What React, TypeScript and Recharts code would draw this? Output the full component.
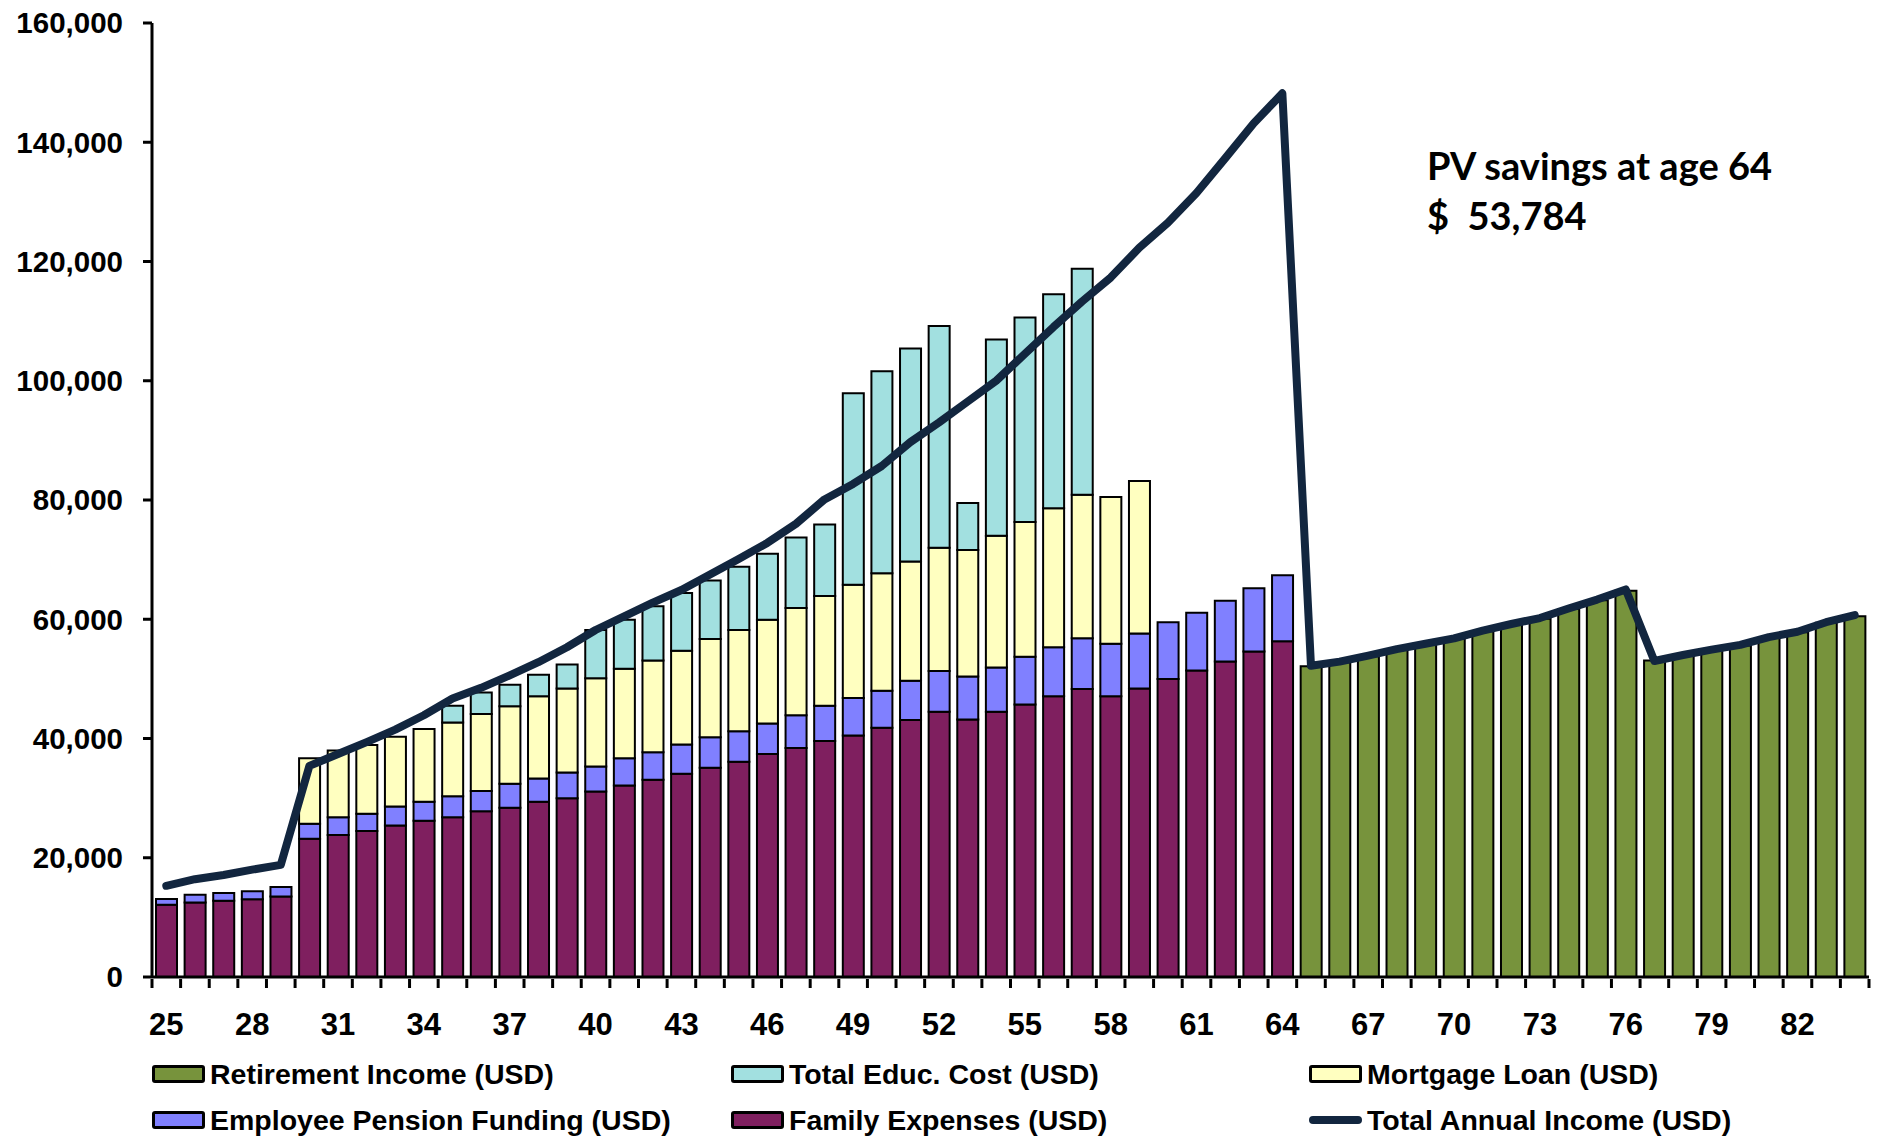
import { Bar, ComposedChart, Legend, Line, XAxis, YAxis } from "recharts";

// Household cash-flow projection by age, values in USD.
const ages = [
  25, 26, 27, 28, 29, 30, 31, 32, 33, 34, 35, 36, 37, 38, 39, 40, 41, 42, 43, 44,
  45, 46, 47, 48, 49, 50, 51, 52, 53, 54, 55, 56, 57, 58, 59, 60, 61, 62, 63, 64,
  65, 66, 67, 68, 69, 70, 71, 72, 73, 74, 75, 76, 77, 78, 79, 80, 81, 82, 83, 84,
];

const familyExpenses = [
  12100, 12500, 12800, 13050, 13500, 23200, 23800, 24500, 25400, 26200,
  26800, 27800, 28400, 29400, 30000, 31100, 32100, 33100, 34100, 35100,
  36100, 37400, 38400, 39600, 40500, 41800, 43100, 44500, 43200, 44500,
  45700, 47100, 48300, 47100, 48400, 50000, 51400, 52900, 54600, 56300,
  0, 0, 0, 0, 0, 0, 0, 0, 0, 0, 0, 0, 0, 0, 0, 0, 0, 0, 0, 0,
];

const pensionFunding = [
  1000, 1300, 1300, 1350, 1600, 2500, 3000, 2900, 3200, 3200,
  3500, 3400, 4000, 3900, 4300, 4200, 4600, 4600, 4900, 5100,
  5100, 5100, 5500, 5900, 6300, 6200, 6600, 6800, 7200, 7400,
  8000, 8200, 8500, 8800, 9200, 9500, 9700, 10200, 10600, 11100,
  0, 0, 0, 0, 0, 0, 0, 0, 0, 0, 0, 0, 0, 0, 0, 0, 0, 0, 0, 0,
];

const mortgageLoan = [
  0, 0, 0, 0, 0, 11000, 11200, 11500, 11700, 12200,
  12400, 12900, 13000, 13800, 14100, 14800, 15000, 15400, 15700, 16500,
  17000, 17400, 18000, 18400, 19000, 19700, 20000, 20700, 21200, 22100,
  22600, 23300, 24100, 24600, 25600, 0, 0, 0, 0, 0,
  0, 0, 0, 0, 0, 0, 0, 0, 0, 0, 0, 0, 0, 0, 0, 0, 0, 0, 0, 0,
];

const educationCost = [
  0, 0, 0, 0, 0, 0, 0, 0, 0, 0,
  2800, 3600, 3600, 3600, 4000, 8100, 8200, 9100, 9700, 9800,
  10600, 11100, 11800, 12000, 32100, 33900, 35700, 37200, 7900, 32900,
  34300, 35900, 37900, 0, 0, 0, 0, 0, 0, 0,
  0, 0, 0, 0, 0, 0, 0, 0, 0, 0, 0, 0, 0, 0, 0, 0, 0, 0, 0, 0,
];

const retirementIncome = [
  0, 0, 0, 0, 0, 0, 0, 0, 0, 0, 0, 0, 0, 0, 0, 0, 0, 0, 0, 0,
  0, 0, 0, 0, 0, 0, 0, 0, 0, 0, 0, 0, 0, 0, 0, 0, 0, 0, 0, 0,
  52100, 52800, 53800, 54900, 55800, 56700, 58000, 59100, 60100, 61700,
  63200, 64800, 53100, 53900, 54800, 55600, 56900, 57800, 59400, 60500,
];

const totalAnnualIncome = [
  15300, 16400, 17100, 18000, 18800, 35400, 37400, 39400, 41500, 43900,
  46700, 48500, 50600, 52800, 55300, 58200, 60500, 62800, 64900, 67500,
  70100, 72800, 76000, 80100, 82700, 85700, 89700, 93000, 96500, 100000,
  104500, 109000, 113300, 117300, 122300, 126500, 131500, 137300, 143200, 148200,
  52200, 52900, 53900, 55000, 55900, 56800, 58100, 59200, 60200, 61800,
  63300, 65000, 53000, 54000, 54900, 55700, 57000, 57900, 59500, 60700,
];

const yTicks = [0, 20000, 40000, 60000, 80000, 100000, 120000, 140000, 160000];

const data = ages.map((age, i) => ({
  age,
  family: familyExpenses[i],
  pension: pensionFunding[i],
  mortgage: mortgageLoan[i],
  education: educationCost[i],
  retirement: retirementIncome[i],
  income: totalAnnualIncome[i],
}));

const COLORS = {
  retirement: "#77933C",
  education: "#A2E0E0",
  mortgage: "#FFFFC0",
  pension: "#8080FF",
  family: "#7F1F5F",
  income: "#12263F",
};

const W = 1881;
const H = 1139;
const MARGIN = { top: 23, right: 12, bottom: 102, left: 0 };
const Y_AXIS_W = 152;
const BAND = (W - MARGIN.left - MARGIN.right - Y_AXIS_W) / ages.length;
const FONT = "'Liberation Sans', Arial, sans-serif";

// Excel-style category axis: tick marks sit between categories, labels every third age.
function AgeTick(props: any) {
  const { x, y, payload, index } = props;
  const left = x - BAND / 2;
  const last = index === ages.length - 1;
  return (
    <g>
      <line x1={left} x2={left} y1={y} y2={y + 9} stroke="#000" strokeWidth={3} />
      {last && (
        <line x1={x + BAND / 2} x2={x + BAND / 2} y1={y} y2={y + 9} stroke="#000" strokeWidth={3} />
      )}
      {index % 3 === 0 && (
        <text
          x={x}
          y={y + 56}
          textAnchor="middle"
          fontFamily={FONT}
          fontWeight="bold"
          fontSize={31}
          fill="#000"
        >
          {payload.value}
        </text>
      )}
    </g>
  );
}

const legendRows = [
  [
    { key: "retirement", label: "Retirement Income (USD)" },
    { key: "education", label: "Total Educ. Cost (USD)" },
    { key: "mortgage", label: "Mortgage Loan (USD)" },
  ],
  [
    { key: "pension", label: "Employee Pension Funding (USD)" },
    { key: "family", label: "Family Expenses (USD)" },
    { key: "income", label: "Total Annual Income (USD)" },
  ],
];
const LEGEND_COLS = [152, 731, 1309];

function LegendBlock() {
  return (
    <div style={{ position: "relative", width: W, height: 90 }}>
      {legendRows.map((row, r) =>
        row.map((item, c) => (
          <div
            key={item.key}
            style={{
              position: "absolute",
              left: LEGEND_COLS[c],
              top: r * 46,
              height: 40,
              display: "flex",
              alignItems: "center",
              whiteSpace: "nowrap",
            }}
          >
            {item.key === "income" ? (
              <div
                style={{
                  width: 53,
                  height: 8,
                  borderRadius: 4,
                  background: COLORS.income,
                }}
              />
            ) : (
              <div
                style={{
                  width: 47,
                  height: 12,
                  border: "3px solid #000",
                  borderRadius: 3,
                  background: (COLORS as any)[item.key],
                }}
              />
            )}
            <span
              style={{
                marginLeft: 5,
                fontFamily: FONT,
                fontWeight: "bold",
                fontSize: 28.5,
                color: "#000",
              }}
            >
              {item.label}
            </span>
          </div>
        ))
      )}
    </div>
  );
}

export default function App() {
  return (
    <div style={{ position: "absolute", left: 0, top: 0, width: W, height: H, background: "#fff" }}>
      <ComposedChart
        width={W}
        height={H}
        data={data}
        margin={MARGIN}
        barSize={21}
        barGap={0}
      >
        <XAxis
          dataKey="age"
          interval={0}
          height={60}
          axisLine={{ stroke: "#000", strokeWidth: 3 }}
          tickLine={false}
          tickSize={0}
          tick={<AgeTick />}
        />
        <YAxis
          width={Y_AXIS_W}
          domain={[0, 160000]}
          ticks={yTicks}
          interval={0}
          tickFormatter={(v: number) => v.toLocaleString("en-US")}
          axisLine={{ stroke: "#000", strokeWidth: 3 }}
          tickLine={{ stroke: "#000", strokeWidth: 3 }}
          tickSize={9}
          tickMargin={20}
          tick={{ fill: "#000", fontSize: 29.5, fontWeight: "bold", fontFamily: FONT }}
        />
        <Legend
          layout="horizontal"
          verticalAlign="middle"
          align="center"
          wrapperStyle={{ top: 1054, left: 0, width: W, height: 90 }}
          content={() => <LegendBlock />}
        />
        <Bar dataKey="family" stackId="a" fill={COLORS.family} stroke="#000" strokeWidth={2} isAnimationActive={false} />
        <Bar dataKey="pension" stackId="a" fill={COLORS.pension} stroke="#000" strokeWidth={2} isAnimationActive={false} />
        <Bar dataKey="mortgage" stackId="a" fill={COLORS.mortgage} stroke="#000" strokeWidth={2} isAnimationActive={false} />
        <Bar dataKey="education" stackId="a" fill={COLORS.education} stroke="#000" strokeWidth={2} isAnimationActive={false} />
        <Bar dataKey="retirement" stackId="a" fill={COLORS.retirement} stroke="#000" strokeWidth={2} isAnimationActive={false} />
        <Line
          dataKey="income"
          type="linear"
          stroke={COLORS.income}
          strokeWidth={8}
          strokeLinejoin="round"
          strokeLinecap="round"
          dot={false}
          activeDot={false}
          isAnimationActive={false}
        />
      </ComposedChart>
      <div
        style={{
          position: "absolute",
          left: 1427,
          top: 140,
          fontFamily: "Lato, 'Open Sans', sans-serif",
          fontWeight: 700,
          fontSize: 38,
          lineHeight: "50px",
          color: "#000",
          whiteSpace: "pre",
        }}
      >
        {"PV savings at age 64\n$  53,784"}
      </div>
    </div>
  );
}
